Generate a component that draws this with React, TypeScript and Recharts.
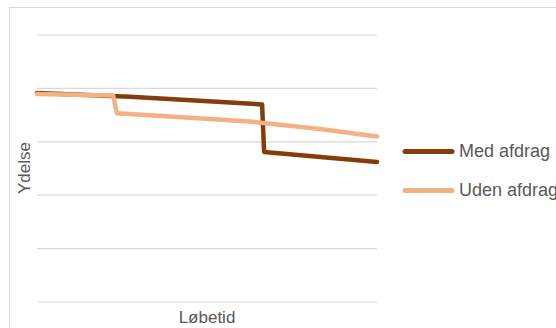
import React from 'react';
import { LineChart, Line, XAxis, YAxis, CartesianGrid } from 'recharts';

// position along the term (0-100) and payment level (0-100)
const medT = [0, 27.4, 66.2, 66.8, 100];
const medV = [78.3, 76.9, 74.0, 56.2, 52.4];
const udenT = [0, 22.4, 23.5, 33.2, 62.6, 83.2, 100];
const udenV = [77.9, 77.3, 70.7, 69.9, 67.6, 64.8, 62.0];
const yTicks = [0, 20, 40, 60, 80, 100];
const seriesNames = ['Med afdrag', 'Uden afdrag'];
const colors = ['#843C0C', '#F4B183'];

const medData = medT.map((t, i) => ({ t, v: medV[i] }));
const udenData = udenT.map((t, i) => ({ t, v: udenV[i] }));

const font = '"Liberation Sans", Arial, sans-serif';
const textColor = '#595959';

function App() {
  return (
    <div style={{ position: 'absolute', left: 0, top: 0, width: 556, height: 328, overflow: 'hidden', background: '#fff', fontFamily: font }}>
      <div style={{ position: 'absolute', left: 9, top: 7, width: 700, height: 500, border: '1px solid #d9d9d9' }} />
      <div style={{ position: 'absolute', left: 0, top: 0 }}>
        <LineChart width={556} height={328} margin={{ top: 35, right: 179, bottom: 26, left: 37 }}>
          <CartesianGrid vertical={false} stroke="#d9d9d9" strokeWidth={1.2} />
          <XAxis type="number" dataKey="t" domain={[0, 100]} hide />
          <YAxis type="number" domain={[0, 100]} ticks={yTicks} hide />
          <Line data={medData} dataKey="v" name={seriesNames[0]} type="linear" stroke={colors[0]} strokeWidth={4.5} dot={false} isAnimationActive={false} strokeLinejoin="round" strokeLinecap="round" />
          <Line data={udenData} dataKey="v" name={seriesNames[1]} type="linear" stroke={colors[1]} strokeWidth={4.5} dot={false} isAnimationActive={false} strokeLinejoin="round" strokeLinecap="round" />
        </LineChart>
      </div>
      <div style={{ position: 'absolute', left: 25, top: 168, transform: 'translate(-50%, -50%) rotate(-90deg)', fontSize: 17, color: textColor, whiteSpace: 'nowrap' }}>
        Ydelse
      </div>
      <div style={{ position: 'absolute', left: 207, top: 318, transform: 'translate(-50%, -50%)', fontSize: 17, color: textColor, whiteSpace: 'nowrap' }}>
        Løbetid
      </div>
      {seriesNames.map((name, i) => (
        <div key={name} style={{ position: 'absolute', left: 402, top: 151 + i * 39, transform: 'translateY(-50%)', display: 'flex', alignItems: 'center', whiteSpace: 'nowrap' }}>
          <svg width={53} height={8}>
            <line x1={3} y1={4} x2={50} y2={4} stroke={colors[i]} strokeWidth={5} strokeLinecap="round" />
          </svg>
          <span style={{ marginLeft: 4, fontSize: 18, color: textColor }}>{name}</span>
        </div>
      ))}
    </div>
  );
}

export default App;
